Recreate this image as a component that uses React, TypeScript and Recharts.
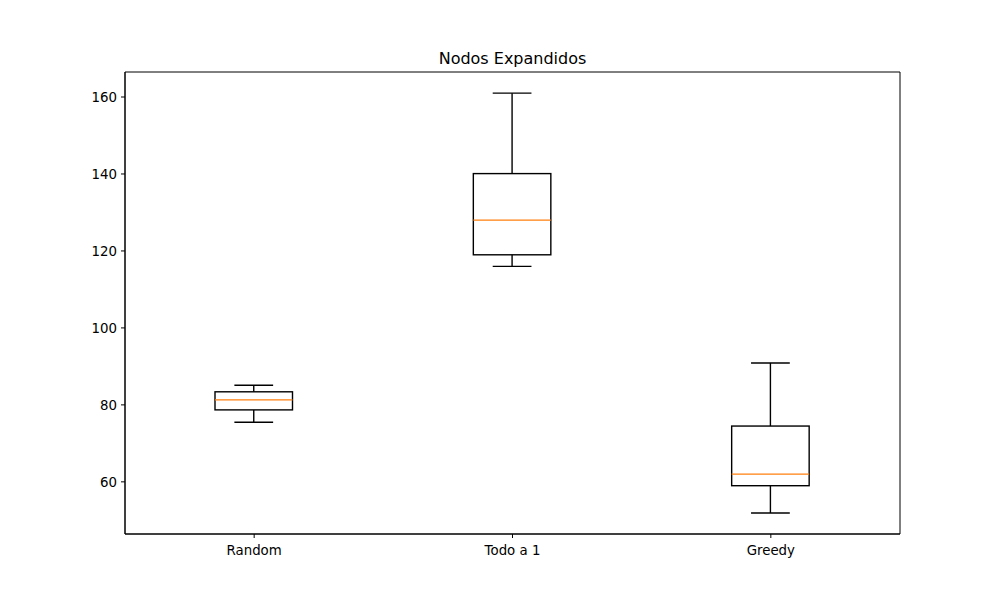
import React from "react";
import { ComposedChart, Bar, XAxis, YAxis, ReferenceArea } from "recharts";

const categories = ["Random", "Todo a 1", "Greedy"];
const mins = [75.5, 116.0, 51.9];
const q1s = [78.7, 119.0, 59.0];
const medians = [81.3, 128.0, 62.0];
const q3s = [83.4, 140.1, 74.5];
const maxs = [85.1, 161.0, 90.9];
const yTicks = [60, 80, 100, 120, 140, 160];
const yMin = 46.45;
const yMax = 166.5;

const data = categories.map((name, i) => ({
  name,
  min: mins[i],
  q1: q1s[i],
  median: medians[i],
  q3: q3s[i],
  max: maxs[i],
  range: [mins[i], maxs[i]],
}));

const BoxShape = (props: any) => {
  const { x, y, width, height, payload } = props;
  const top = Math.min(y, y + height);
  const h = Math.abs(height);
  const k = h / (payload.max - payload.min);
  const py = (v: number) => top + (payload.max - v) * k;
  const cx = x + width / 2;
  const capHalf = width / 4;
  const sw = 1.4;
  return (
    <g>
      <line x1={cx} x2={cx} y1={py(payload.max)} y2={py(payload.q3)} stroke="#000" strokeWidth={sw} />
      <line x1={cx} x2={cx} y1={py(payload.q1)} y2={py(payload.min)} stroke="#000" strokeWidth={sw} />
      <line x1={cx - capHalf} x2={cx + capHalf} y1={py(payload.max)} y2={py(payload.max)} stroke="#000" strokeWidth={sw} />
      <line x1={cx - capHalf} x2={cx + capHalf} y1={py(payload.min)} y2={py(payload.min)} stroke="#000" strokeWidth={sw} />
      <rect
        x={x}
        y={py(payload.q3)}
        width={width}
        height={py(payload.q1) - py(payload.q3)}
        fill="none"
        stroke="#000"
        strokeWidth={sw}
      />
      <line x1={x} x2={x + width} y1={py(payload.median)} y2={py(payload.median)} stroke="#ff7f0e" strokeWidth={sw} />
    </g>
  );
};

const tickStyle = { fill: "#000", fontSize: 13.33, fontFamily: "DejaVu Sans" };

export default function App() {
  return (
    <div style={{ position: "absolute", left: 0, top: 0, width: 1000, height: 600, background: "#fff" }}>
      <div
        style={{
          position: "absolute",
          left: 125,
          width: 775,
          top: 49,
          textAlign: "center",
          fontFamily: "DejaVu Sans",
          fontSize: 16,
          color: "#000",
        }}
      >
        Nodos Expandidos
      </div>
      <ComposedChart
        width={1000}
        height={600}
        data={data}
        margin={{ top: 72, right: 100, bottom: 36, left: 0 }}
      >
        <XAxis
          dataKey="name"
          type="category"
          height={30}
          tick={tickStyle}
          tickSize={4}
          tickMargin={8}
          axisLine={{ stroke: "#000" }}
          tickLine={{ stroke: "#000" }}
        />
        <YAxis
          width={125}
          type="number"
          domain={[yMin, yMax]}
          ticks={yTicks}
          allowDataOverflow
          tick={tickStyle}
          tickSize={4}
          tickMargin={4}
          axisLine={{ stroke: "#000" }}
          tickLine={{ stroke: "#000" }}
        />
        <ReferenceArea y1={yMin} y2={yMax} fill="none" stroke="#000" strokeWidth={1} />
        <Bar dataKey="range" barSize={77.5} shape={<BoxShape />} isAnimationActive={false} />
      </ComposedChart>
    </div>
  );
}
